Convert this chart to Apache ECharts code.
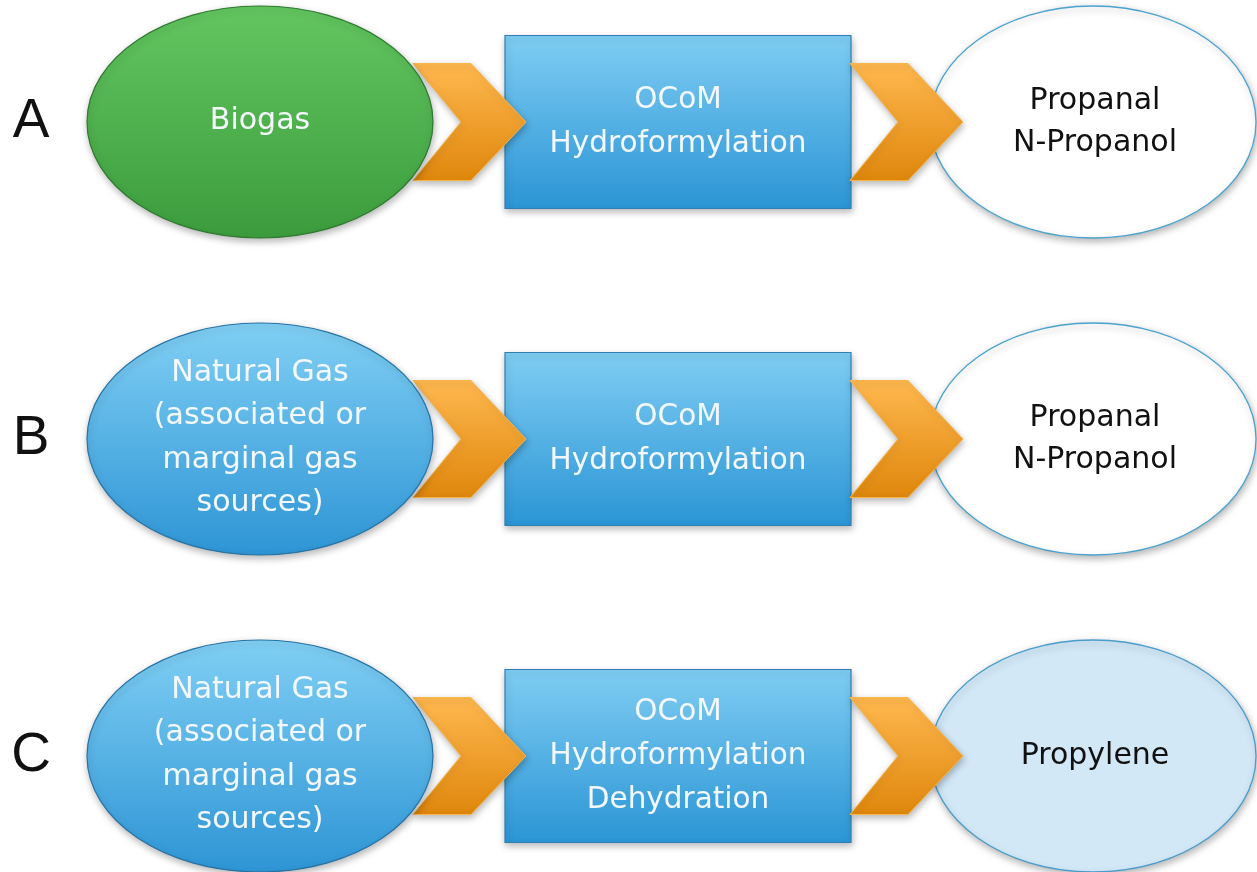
<!DOCTYPE html>
<html>
<head>
<meta charset="utf-8">
<style>
  html, body { margin: 0; padding: 0; background: #ffffff; }
  #chart { width: 1257px; height: 872px; }
</style>
<script src="https://cdn.jsdelivr.net/npm/echarts@6/dist/echarts.min.js"></script>
</head>
<body>
<div id="chart"></div>
<script>
// ---- Diagram content ----
const rowLabels = ['A', 'B', 'C'];
const feedstocks = [
  'Biogas',
  'Natural Gas\n(associated or\nmarginal gas\nsources)',
  'Natural Gas\n(associated or\nmarginal gas\nsources)'
];
const feedstockKinds = ['bio', 'gas', 'gas'];
const processes = [
  'OCoM\nHydroformylation',
  'OCoM\nHydroformylation',
  'OCoM\nHydroformylation\nDehydration'
];
const products = ['Propanal\nN-Propanol', 'Propanal\nN-Propanol', 'Propylene'];
const productKinds = ['chemical', 'chemical', 'olefin'];

// ---- Layout (positions in a 1257 x 872 coordinate space) ----
const rowCenters = [122, 439, 756];
const L = {
  letterX: 31,
  srcCx: 260, srcRx: 173, srcRy: 116,
  procX0: 505, procX1: 851, procH: 173,
  prodCx: 1093, prodRx: 163, prodRy: 116,
  chev1X: 413, chev2X: 850, chevW: 113, chevH: 117, chevTop: 58, chevNotch: 48
};

const FONT = '"DejaVu Sans", sans-serif';
const shadow = { shadowBlur: 7, shadowColor: 'rgba(0,0,0,0.28)', shadowOffsetX: 1, shadowOffsetY: 3 };
function vgrad(c0, c1) {
  return { type: 'linear', x: 0, y: 0, x2: 0, y2: 1, colorStops: [{ offset: 0, color: c0 }, { offset: 1, color: c1 }] };
}
const srcStyles = {
  bio: { fill: vgrad('#63c660', '#3c9c3d'), stroke: '#2f7a30' },
  gas: { fill: vgrad('#80cff4', '#2e95d5'), stroke: '#2873a6' }
};
const prodStyles = {
  chemical: { fill: '#ffffff', stroke: '#4aa3cf' },
  olefin: { fill: '#d2e8f7', stroke: '#4a9ccb' }
};

function renderItem(params, api) {
  const i = params.dataIndex;
  const cy = rowCenters[i];
  const P = (x, y) => api.coord([x, y]);
  const children = [];

  // process rectangle
  const r0 = P(L.procX0, cy - L.procH / 2);
  const r1 = P(L.procX1, cy + L.procH / 2);
  children.push({
    type: 'rect',
    shape: { x: r0[0], y: r0[1], width: r1[0] - r0[0], height: r1[1] - r0[1] },
    style: Object.assign({ fill: vgrad('#7fcdf3', '#2b95d5'), stroke: '#2f7fb2', lineWidth: 1.2 }, shadow)
  });

  // product ellipse
  const pc = P(L.prodCx, cy);
  const prx = api.size([L.prodRx, 0])[0];
  const pry = api.size([0, L.prodRy])[1];
  const ps = prodStyles[productKinds[i]];
  children.push({
    type: 'ellipse',
    shape: { cx: pc[0], cy: pc[1], rx: prx, ry: pry },
    style: Object.assign({ fill: ps.fill, stroke: ps.stroke, lineWidth: 1.3 }, shadow)
  });

  // chevrons
  [L.chev1X, L.chev2X].forEach(function (x0) {
    const top = cy - L.chevH / 2, bot = cy + L.chevH / 2;
    const pts = [
      [x0, top], [x0 + L.chevTop, top], [x0 + L.chevW, cy],
      [x0 + L.chevTop, bot], [x0, bot], [x0 + L.chevNotch, cy]
    ].map(function (p) { return P(p[0], p[1]); });
    children.push({
      type: 'polygon',
      shape: { points: pts },
      style: Object.assign({ fill: vgrad('#ffb84f', '#df870c'), stroke: '#f7b54a', lineWidth: 1 }, shadow)
    });
  });

  // feedstock ellipse
  const sc = P(L.srcCx, cy);
  const srx = api.size([L.srcRx, 0])[0];
  const sry = api.size([0, L.srcRy])[1];
  const ss = srcStyles[feedstockKinds[i]];
  children.push({
    type: 'ellipse',
    shape: { cx: sc[0], cy: sc[1], rx: srx, ry: sry },
    style: Object.assign({ fill: ss.fill, stroke: ss.stroke, lineWidth: 1.2 }, shadow)
  });

  // texts
  const rc = P((L.procX0 + L.procX1) / 2, cy);
  children.push({
    type: 'text',
    style: { text: feedstocks[i], x: sc[0], y: sc[1] - 1, fill: '#f4f8fb', fontFamily: FONT, fontSize: 30,
             lineHeight: 43.5, align: 'center', verticalAlign: 'middle' }
  });
  children.push({
    type: 'text',
    style: { text: processes[i], x: rc[0], y: rc[1], fill: '#f4f8fb', fontFamily: FONT, fontSize: 29.5,
             lineHeight: 44, align: 'center', verticalAlign: 'middle' }
  });
  children.push({
    type: 'text',
    style: { text: products[i], x: pc[0] + 2, y: pc[1], fill: '#111111', fontFamily: FONT, fontSize: 30,
             lineHeight: 42, align: 'center', verticalAlign: 'middle' }
  });
  const lc = P(L.letterX, cy);
  children.push({
    type: 'text',
    style: { text: rowLabels[i], x: lc[0], y: lc[1], fill: '#111111', fontFamily: '"Liberation Sans", sans-serif',
             fontSize: 55, align: 'center', verticalAlign: 'middle' }
  });

  return { type: 'group', children: children };
}

const chart = echarts.init(document.getElementById('chart'), null, { renderer: 'canvas' });
chart.setOption({
  backgroundColor: '#ffffff',
  animation: false,
  grid: { left: 0, right: 0, top: 0, bottom: 0 },
  xAxis: { type: 'value', min: 0, max: 1257, show: false },
  yAxis: { type: 'value', min: 0, max: 872, inverse: true, show: false },
  series: [{
    type: 'custom',
    clip: false,
    renderItem: renderItem,
    data: rowLabels.map(function (_, i) { return [L.srcCx, rowCenters[i]]; })
  }]
});
</script>
</body>
</html>
